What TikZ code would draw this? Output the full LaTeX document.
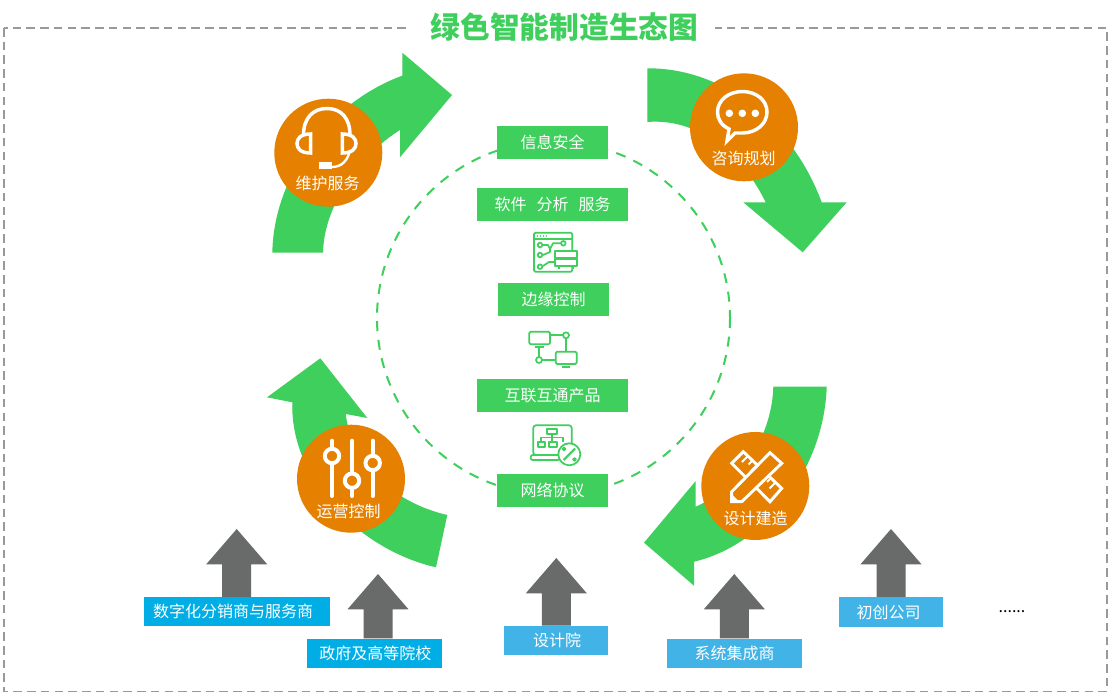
\documentclass[tikz,border=0pt]{standalone}
\usepackage{fontspec}
\usepackage{xcolor}
\setmainfont{Noto Sans CJK SC}
\definecolor{leafgreen}{HTML}{3ECF5C}
\definecolor{huborange}{HTML}{E58000}
\definecolor{stonegray}{HTML}{686B6A}
\definecolor{deepblue}{HTML}{00AEE5}
\definecolor{softblue}{HTML}{41B3E6}
\definecolor{framegray}{HTML}{999999}
\tikzset{
	flowarrow/.style={fill=leafgreen},
	hubdot/.style={circle,fill=huborange,minimum size=81pt,inner sep=0pt},
	hubtext/.style={text=white,font=\fontsize{12}{14}\selectfont,inner sep=0pt},
	greenbox/.style={fill=leafgreen,text=white,font=\fontsize{12}{14}\selectfont,minimum height=24.75pt,inner sep=0pt},
	partnerbox/.style={text=white,font=\fontsize{12}{14}\selectfont,minimum height=22pt,inner sep=0pt},
	hubicon/.style={draw=white,line width=2.6pt},
	lineicon/.style={draw=leafgreen,line width=1.3pt,fill=white,line join=round}
}
\begin{document}
\begin{tikzpicture}[x=0.75pt,y=-0.75pt]
	\useasboundingbox (0,0) rectangle (1113,699);
	\fill[white] (0,0) rectangle (1113,699);

	% frame and title
	\draw[framegray,line width=1.2pt,dash pattern=on 6.4pt off 3.9pt] (4,28) rectangle (1107,691.5);
	\node[fill=white,text=leafgreen,font=\fontsize{22.3}{26}\selectfont\bfseries,minimum width=231pt,minimum height=26pt,inner sep=0pt] (title) at (561,27) {\hspace{5.2pt}绿色智能制造生态图};

	% dashed ring
	\draw[leafgreen,line width=1.5pt,dash pattern=on 7.5pt off 6.5pt] (553.5,318) circle (176.5);

	% four big arrows
	\fill[flowarrow] (272.3,252.7) .. controls (274,170) and (335,100) .. (402.3,75.7) -- (402.3,52.7) -- (452,95) -- (400,157.3) -- (400,130) .. controls (360,155) and (324,205) .. (323,252.7) -- cycle;
	\fill[flowarrow] (647.3,68.3) .. controls (730,68) and (795,130) .. (821.7,202.3) -- (846.7,202.3) -- (802.7,252.3) -- (743.3,202.3) -- (765.7,202.3) .. controls (740,150) and (695,118) .. (647.3,122) -- cycle;
	\fill[flowarrow] (826.7,386.7) .. controls (824,470) and (765,545) .. (694,561.7) -- (694,585.7) -- (644,542.7) -- (695.7,481) -- (695.7,506.7) .. controls (735,490) and (772,440) .. (773.3,386.7) -- cycle;
	\fill[flowarrow] (436,567.3) .. controls (360,550) and (290,480) .. (292.3,402.3) -- (267,397.3) -- (320.3,358.3) -- (367.3,418) -- (345.7,414) .. controls (352,465) and (395,503) .. (447.3,515) -- cycle;

	% hubs
	\node[hubdot] (upkeep) at (328.3,152.7) {};
	\node[hubdot] (advice) at (744,127.3) {};
	\node[hubdot] (build) at (755.3,486) {};
	\node[hubdot] (operate) at (351,478.7) {};
	\node[hubtext] (upkeeptext) at (327.5,183.3) {维护服务};
	\node[hubtext] (advicetext) at (743.5,158.3) {咨询规划};
	\node[hubtext] (buildtext) at (755.5,518.3) {设计建造};
	\node[hubtext] (operatetext) at (348.5,511.7) {运营控制};

	% headset
	\draw[hubicon] (303.5,135) .. controls (303.5,118) and (313,108.5) .. (327,108.5) .. controls (341,108.5) and (350,118) .. (350,135);
	\draw[hubicon] (310.7,134) -- (310.7,153) .. controls (300,153) and (297,148) .. (297,143.5) .. controls (297,139) and (300,134) .. (310.7,134) -- cycle;
	\draw[hubicon] (342.3,134) -- (342.3,153) .. controls (353,153) and (356,148) .. (356,143.5) .. controls (356,139) and (353,134) .. (342.3,134) -- cycle;
	\draw[hubicon,line width=1.8pt] (350,150) .. controls (348,160) and (342,167) .. (332,167);
	\fill[white] (319,162) rectangle (332,168.5);

	% chat bubble
	\draw[hubicon] (727,141) -- (729,129) .. controls (721,125) and (717.5,119) .. (717.5,112) .. controls (717.5,100) and (729,91.5) .. (742.3,91.5) .. controls (756,91.5) and (767,100) .. (767,112) .. controls (767,124) and (756,133) .. (742.3,133) .. controls (739,133) and (737,133) .. (735,133) -- cycle;
	\foreach \dotx in {729.3,742.3,755.3}
		\fill[white] (\dotx,113.3) circle (3.8);

	% ruler and pencil
	\draw[hubicon,line width=2.2pt,line join=miter] (743.3,451.7) -- (731.7,463.3) -- (770,501.7) -- (781.7,488.3) -- cycle;
	\draw[hubicon,line width=1.5pt] (747.9,456.1) -- (741.9,462.1);
	\draw[hubicon,line width=1.5pt] (752.5,460.5) -- (748.5,464.5);
	\draw[hubicon,line width=1.5pt] (757.1,464.9) -- (751.1,470.9);
	\draw[hubicon,line width=1.5pt] (766.3,473.7) -- (760.3,479.7);
	\draw[hubicon,line width=1.5pt] (771,478) -- (767,482);
	\draw[hubicon,line width=1.5pt] (775.6,482.4) -- (769.6,488.4);
	\draw[hubicon,line width=2.2pt,fill=huborange,line join=miter] (770,452.7) -- (781.7,463.3) -- (741.7,501.7) -- (731.7,501.7) -- (731.7,491.7) -- cycle;
	\fill[white] (731.7,501.7) -- (731.7,494) -- (739.4,501.7) -- cycle;

	% sliders
	\foreach \knobx/\knoby in {332/456,352/480.7,372.7/463} {
		\draw[hubicon,line width=3pt,line cap=round] (\knobx,440.7) -- (\knobx,496);
		\draw[hubicon,line width=3pt,fill=huborange] (\knobx,\knoby) circle (7.2);
	}

	% centre boxes
	\node[greenbox,minimum width=83.25pt] (security) at (552.5,142.5) {信息安全};
	\node[greenbox,minimum width=113.25pt] (software) at (552.5,204.5) {软件\hspace{7.5pt}分析\hspace{7.5pt}服务};
	\node[greenbox,minimum width=83.25pt] (edge) at (553.5,299.5) {边缘控制};
	\node[greenbox,minimum width=113.25pt] (products) at (552.5,395.5) {互联互通产品};
	\node[greenbox,minimum width=83.25pt] (network) at (552.5,490.5) {网络协议};

	% software icon
	\draw[lineicon,rounded corners=1pt] (534,232.7) rectangle (572.3,271.7);
	\draw[lineicon] (534,239.3) -- (572.3,239.3);
	\foreach \barx in {537.5,540.5,543.5,546.5}
		\fill[leafgreen] (\barx,236) circle (0.9);
	\foreach \padx/\pady in {540/245,540/255,540/266.7,563.3/243.3}
		\draw[lineicon] (\padx,\pady) circle (2.3);
	\draw[lineicon,fill=none] (543,245) -- (548,245) -- (550,249) -- (550,252) -- (543,255);
	\draw[lineicon,fill=none] (543,266) -- (549,262) -- (555,262);
	\draw[lineicon,fill=none] (550,249) -- (553,243.3) -- (560.5,243.3);
	\draw[lineicon] (555,251) rectangle (577.3,257.7);
	\draw[lineicon] (555,259.3) rectangle (577.3,266);
	\draw[lineicon,fill=none] (559,266) -- (559,269);
	\draw[lineicon,fill=none] (573,266) -- (573,269);

	% devices icon
	\draw[lineicon,rounded corners=1pt] (529.3,331.7) rectangle (550,344.3);
	\draw[lineicon] (535,347.3) -- (544,347.3);
	\draw[lineicon] (550,335.3) -- (563,335.3);
	\draw[lineicon] (566,335.3) circle (3);
	\draw[lineicon] (539,348.3) -- (539,357);
	\draw[lineicon] (539,360) circle (3);
	\draw[lineicon] (566,338.3) -- (566,351.7);
	\draw[lineicon] (542,360) -- (555.7,360);
	\draw[lineicon,rounded corners=1pt] (555.7,351.7) rectangle (576.7,364);
	\draw[lineicon] (561.7,366.7) -- (570,366.7);

	% laptop icon
	\draw[lineicon,rounded corners=2pt] (533.3,425.3) rectangle (571.7,455);
	\draw[lineicon,rounded corners=1.5pt] (530.7,455) rectangle (560,460);
	\draw[lineicon] (547.3,429.3) rectangle (557.3,434);
	\draw[lineicon,fill=none] (552.3,434) -- (552.3,441.7);
	\draw[lineicon,fill=none] (541.3,441.7) -- (541.3,437.5) -- (563,437.5) -- (563,441.7);
	\draw[lineicon] (537.7,441.7) rectangle (545,447.3);
	\draw[lineicon] (549.3,441.7) rectangle (556.7,447.3);
	\draw[lineicon] (569.3,454.3) circle (11);
	\draw[lineicon,line width=1.6pt] (563.5,460) -- (575,448.5);
	\draw[lineicon] (564,449) circle (1.5);
	\draw[lineicon] (574.5,459.5) circle (1.5);

	% partners
	\foreach \tipx/\tipy/\reach in {236.7/529/68.3,378/574/64.3,556.3/558/67.7,734.3/574/64.3,891/529/68.3}
		\fill[stonegray] (\tipx,\tipy) -- ++(30.5,35.3) -- ++(-16,0) -- (\tipx+14.5,\tipy+\reach) -- (\tipx-14.5,\tipy+\reach) -- ++(0,-\reach+35.3) -- ++(-16,0) -- cycle;
	\node[partnerbox,fill=deepblue,minimum width=139.3pt] (resellers) at (236.8,611.8) {数字化分销商与服务商\hspace{5.5pt}\mbox{}};
	\node[partnerbox,fill=deepblue,minimum width=101.5pt] (schools) at (374.3,653.2) {\hspace{1.5pt}政府及高等院校};
	\node[partnerbox,fill=softblue,minimum width=78pt] (institute) at (556,640.7) {\hspace{1.5pt}设计院};
	\node[partnerbox,fill=softblue,minimum width=101.5pt] (integrators) at (734.7,653.2) {系统集成商};
	\node[partnerbox,fill=softblue,minimum width=77.8pt] (startups) at (891.2,612) {初创公司\hspace{4pt}\mbox{}};
	\node[font=\fontsize{12}{14}\selectfont,inner sep=0pt,anchor=base] (more) at (1012,612.3) {......};
\end{tikzpicture}
\end{document}
